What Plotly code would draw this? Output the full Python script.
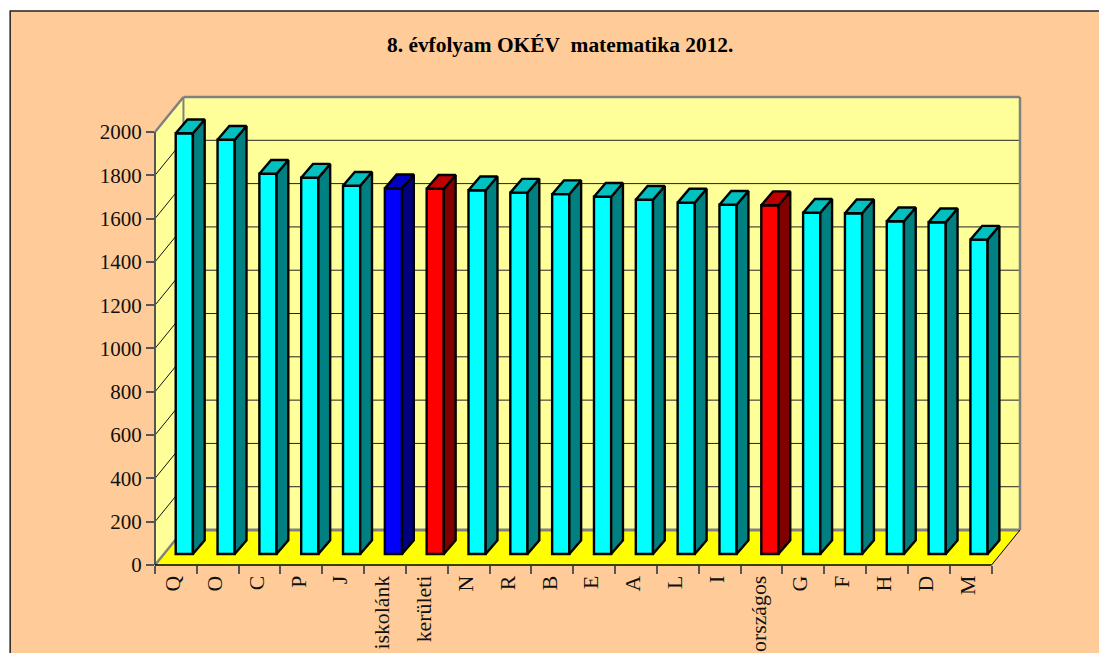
import plotly.graph_objects as go

categories = ["Q","O","C","P","J","iskolánk","kerületi","N","R","B","E","A","L","I","országos","G","F","H","D","M"]
values = [1943,1913,1756,1738,1701,1689,1687,1680,1669,1662,1650,1636,1623,1613,1611,1576,1574,1537,1532,1452]
front_colors = {"iskolánk":"#0000FF","kerületi":"#FF0000","országos":"#FF0000"}
side_colors = {"iskolánk":"#000080","kerületi":"#800000","országos":"#800000"}
top_colors = {"iskolánk":"#0000C0","kerületi":"#C00000","országos":"#C00000"}
y_ticks = list(range(0, 2001, 200))

W, H = 1099, 653
L, R, T, B = 154.5, 1020.5, 96.5, 565
n = len(categories)
px_x = (992 - 154.5) / n
px_y = (565 - 131.5) / 2000
DX, DY = 28.5 / px_x, 35 / px_y              # wall depth
SHIFT, BW = 8.4 / px_x, 17.2 / px_x          # bar front offset / width
BDX, BDY = 11.8 / px_x, 13.8 / px_y          # bar depth
BASE = 11 / px_y                             # bar base on the floor
XMAX, YMAX = n + DX, 2000 + DY

def line(x0, y0, x1, y1, color, width):
    # paper references so that edge lines are not clipped by the plot area
    return dict(type="line", xref="paper", yref="paper",
                x0=x0/XMAX, y0=y0/YMAX, x1=x1/XMAX, y1=y1/YMAX, layer="below",
                line=dict(color=color, width=width))

def poly(pts, fill):
    d = "M" + "L".join(f"{x/XMAX},{y/YMAX}" for x, y in pts) + "Z"
    return dict(type="path", xref="paper", yref="paper", path=d, fillcolor=fill,
                layer="below", line=dict(width=0))

shapes = [
    poly([(DX,DY),(DX,2000+DY),(n+DX,2000+DY),(n+DX,DY)], "#FFFF99"),
    poly([(0,0),(0,2000),(DX,2000+DY),(DX,DY)], "#FFFF99"),
    poly([(0,0),(DX,DY),(n+DX,DY),(n,0)], "#FFFF00"),
]
for v in y_ticks[1:-1]:
    shapes.append(line(0, v, DX, v+DY, "#111111", 1))
    shapes.append(line(DX, v+DY, n+DX, v+DY, "#222222", 1))
G = "#808080"
shapes += [
    line(DX, DY, n+DX, DY, G, 3),
    line(0, 0, DX, DY, G, 2.5),
    line(DX, DY, DX, 2000+DY, G, 2),
    line(0, 2000, DX, 2000+DY, G, 2.5),
    line(DX, 2000+DY, n+DX, 2000+DY, G, 2.5),
    line(n+DX, DY, n+DX, 2000+DY, G, 2.5),
    line(0, 0, 0, 2000, "#555555", 2),
    line(0, 0, n, 0, "#000000", 1.5),
    line(n, 0, n+DX, DY, "#000000", 1),
]
# page background + frame
def fx(p): return (p - L) / (R - L)
def fy(p): return 1 - (p - T) / (B - T)
shapes.insert(0, dict(type="rect", xref="paper", yref="paper", layer="below",
                      x0=fx(9.5), x1=fx(W+5), y0=fy(10.5), y1=fy(H+5),
                      fillcolor="#FFCC99", line=dict(color="#222222", width=1.5)))

fig = go.Figure()
lefts = [i + 0.5 + SHIFT - BW/2 for i in range(n)]
fig.add_bar(x=[l + BW/2 for l in lefts], y=values, base=[BASE]*n, width=BW,
            marker=dict(color=[front_colors.get(c, "#00FFFF") for c in categories],
                        line=dict(color="#000000", width=2.4)),
            hoverinfo="skip")
for l, v, c in zip(lefts, values, categories):
    top = BASE + v
    r = l + BW
    fig.add_scatter(x=[r, r+BDX, r+BDX, r, r], y=[BASE, BASE+BDY, top+BDY, top, BASE],
                    mode="lines", fill="toself", fillcolor=side_colors.get(c, "#008080"),
                    line=dict(color="#000000", width=2.4), hoverinfo="skip", cliponaxis=False)
    fig.add_scatter(x=[l, l+BDX, r+BDX, r, l], y=[top, top+BDY, top+BDY, top, top],
                    mode="lines", fill="toself", fillcolor=top_colors.get(c, "#00C0C0"),
                    line=dict(color="#000000", width=2.4), hoverinfo="skip", cliponaxis=False)

font = "Liberation Serif"
fig.update_layout(
    width=W, height=H, showlegend=False, autosize=False,
    paper_bgcolor="#FFFFFF", plot_bgcolor="rgba(0,0,0,0)",
    margin=dict(l=L, r=W-R, t=T, b=H-B, autoexpand=False),
    shapes=shapes,
    font=dict(family=font, color="#111111", size=21),
    annotations=[dict(text="<b>8. évfolyam OKÉV\u00a0\u00a0matematika 2012.</b>", xref="paper", yref="paper",
                      x=fx(560), y=fy(44), xanchor="center", yanchor="middle", showarrow=False,
                      font=dict(family=font, size=21.4, color="#000000"))],
    xaxis=dict(range=[0, XMAX], showgrid=False, zeroline=False, showline=False,
               tickvals=[i+0.43 for i in range(n)], ticktext=categories, tickangle=-90,
               tickfont=dict(size=21.8),
               ticks="outside", ticklen=0, tickwidth=0, automargin=False, fixedrange=True,
               ticklabelstandoff=1,
               minor=dict(tickvals=list(range(n+1)), ticks="outside", ticklen=8, tickwidth=1.5,
                          tickcolor="#555555", showgrid=False)),
    yaxis=dict(range=[0, YMAX], showgrid=False, zeroline=False, showline=False,
               tickvals=y_ticks, ticks="outside", ticklen=8, tickwidth=1.5, tickcolor="#555555",
               automargin=False, fixedrange=True),
)
fig.write_html("out.html", config={"displayModeBar": False},
               post_script="document.body.style.margin='0';document.body.style.overflow='hidden';")
